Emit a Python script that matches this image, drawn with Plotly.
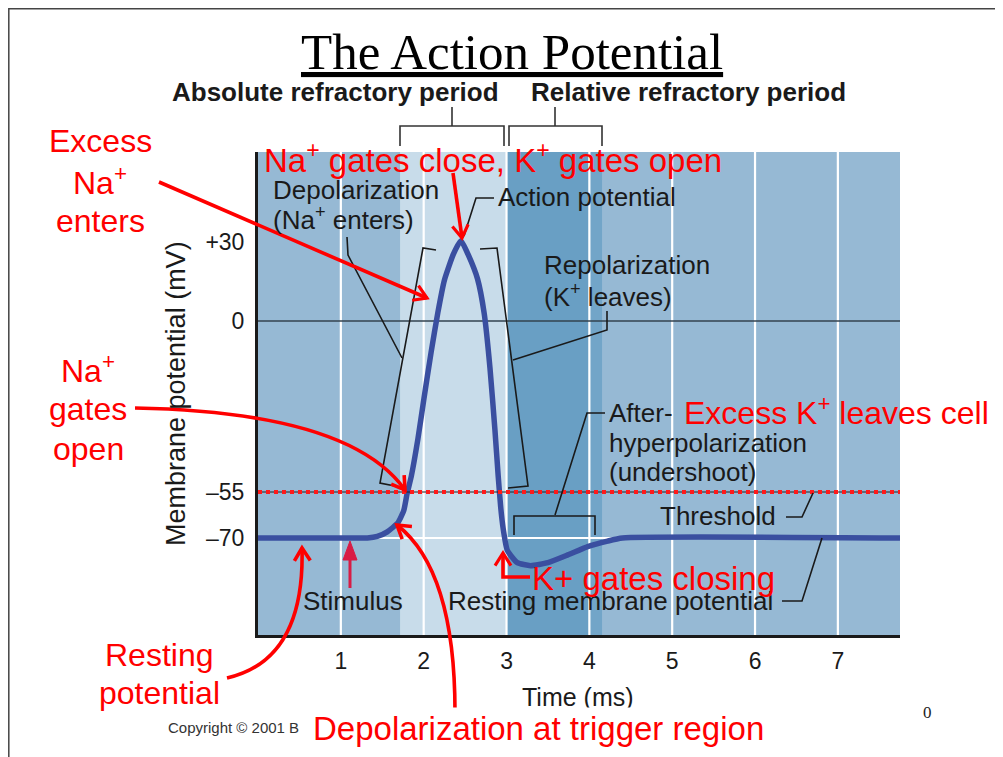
import math
import numpy as np
import plotly.graph_objects as go

# ---------------- data ----------------
TIME_MS = [0, 1.0, 1.32, 1.44, 1.56, 1.69, 1.76, 1.80, 1.85, 1.93, 2.0, 2.09, 2.17, 2.25,
           2.36, 2.45, 2.54, 2.65, 2.73, 2.80, 2.86, 2.90, 2.93, 2.96, 3.01, 3.13, 3.29,
           3.50, 3.74, 3.98, 4.22, 4.40, 7.75]
VM_MV = [-70, -70, -70, -69.5, -68, -65, -61, -55.5, -50, -38, -25.5, -10, 3, 15.5,
         25.5, 30.5, 25, 16, 3, -15, -35, -50, -60, -67, -74, -78, -79,
         -78, -75.5, -72.8, -71, -70, -70]

Y_TICK_MV = [30, 0, -55, -70]
Y_TICK_TEXT = ["+30", "0", "\u201355", "\u201370"]
X_TICKS = [1, 2, 3, 4, 5, 6, 7]
X_TICK_TEXT = ["1", "2", "3", "4", "5", "6", "7"]
THRESHOLD_MV = -55
REST_MV = -70

# shaded phases of the time axis (ms) and their tints
BAND_EDGES = [0, 1.715, 2.995, 4.01, 4.155, 7.75]
BAND_COLORS = ["#96b9d4", "#c8dcea", "#699fc4", "#72a5c8", "#96b9d4"]

# the textbook figure's voltage axis is not linear: knots of its display scale
MV_KNOTS = [-110, -70, -55, 0, 30, 70]
DISPLAY_KNOTS = [-340, -217, -171, 0, 79, 184]


def to_disp(mv):
    return np.interp(mv, MV_KNOTS, DISPLAY_KNOTS)


# ---------------- layout geometry ----------------
PAGE_OFF = 8              # default body margin of the html page
FW, FH = 1003 - PAGE_OFF, 757 - PAGE_OFF
# plot area, in page pixels
PL, PR, PT, PB = 258, 900, 152, 635
X_RANGE = [0, 7.75]
Y_RANGE = [-314, 169]


def px(x):
    return (x - PL) / (PR - PL)


def py(y):
    return (PB - y) / (PB - PT)


fig = go.Figure()

fig.add_trace(go.Scatter(
    x=TIME_MS, y=to_disp(np.array(VM_MV)), mode="lines",
    line=dict(color="#3a4fa0", width=5.5, shape="spline", smoothing=0.5),
    hoverinfo="skip", showlegend=False))

# background bands
for i, c in enumerate(BAND_COLORS):
    fig.add_shape(type="rect", xref="x", yref="paper", x0=BAND_EDGES[i], x1=BAND_EDGES[i + 1],
                  y0=0, y1=1, fillcolor=c, line=dict(width=0), layer="below")
for xv in X_TICKS:
    fig.add_shape(type="line", xref="x", yref="paper", x0=xv, x1=xv, y0=0, y1=1,
                  line=dict(color="white", width=2.2), layer="below")
fig.add_shape(type="line", xref="paper", yref="y", x0=0, x1=1, y0=to_disp(REST_MV), y1=to_disp(REST_MV),
              line=dict(color="white", width=2.2), layer="below")
fig.add_shape(type="line", xref="paper", yref="y", x0=0, x1=1, y0=to_disp(0), y1=to_disp(0),
              line=dict(color="#33434f", width=1.6), layer="below")
# threshold
fig.add_shape(type="line", xref="paper", yref="y", x0=0, x1=1, y0=to_disp(THRESHOLD_MV), y1=to_disp(THRESHOLD_MV),
              line=dict(color="#222222", width=1.2), layer="above")
fig.add_shape(type="line", xref="paper", yref="y", x0=0, x1=1, y0=to_disp(THRESHOLD_MV), y1=to_disp(THRESHOLD_MV),
              line=dict(color="#ff1a1a", width=4, dash="4px,4px"), layer="above")


def seg(pts, color="#1a1a1a", width=1.6):
    d = "M " + " L ".join(f"{px(x):.5f},{py(y):.5f}" for x, y in pts)
    fig.add_shape(type="path", path=d, xref="paper", yref="paper",
                  line=dict(color=color, width=width), layer="above")


def head(tip, frm, color="#ff0000", width=3.2, size=15, ang=32):
    dx, dy = tip[0] - frm[0], tip[1] - frm[1]
    n = math.hypot(dx, dy)
    bx, by = -dx / n, -dy / n
    a = math.radians(ang)
    arms = []
    for s in (1, -1):
        rx = bx * math.cos(s * a) - by * math.sin(s * a)
        ry = bx * math.sin(s * a) + by * math.cos(s * a)
        arms.append((tip[0] + size * rx, tip[1] + size * ry))
    seg([arms[0], tip, arms[1]], color, width)


def qarrow(p0, p1, p2, color="#ff0000", width=3.6):
    d = (f"M {px(p0[0]):.5f},{py(p0[1]):.5f} Q {px(p1[0]):.5f},{py(p1[1]):.5f} "
         f"{px(p2[0]):.5f},{py(p2[1]):.5f}")
    fig.add_shape(type="path", path=d, xref="paper", yref="paper",
                  line=dict(color=color, width=width), layer="above")
    head(p2, p1, color, width)


def txt(s, x, y, size=26, color="#1a1a1a", xanchor="left", family="Arial, 'Liberation Sans', sans-serif",
        bg=None, angle=0):
    fig.add_annotation(x=px(x), y=py(y), xref="paper", yref="paper", text=s, showarrow=False,
                       xanchor=xanchor, yanchor="middle", textangle=angle,
                       font=dict(size=size, color=color, family=family),
                       bgcolor=bg if bg else "rgba(0,0,0,0)", borderpad=2)


# frame of the slide
seg([(8.8, 757), (8.8, 8.8), (1003, 8.8)], "#444444", 1.5)

# refractory brackets
seg([(452, 107), (452, 126)], "#333333", 1.6)
seg([(400, 146), (400, 126), (504, 126), (504, 146)], "#333333", 1.6)
seg([(555, 107), (555, 126)], "#333333", 1.6)
seg([(509, 146), (509, 126), (602, 126), (602, 146)], "#333333", 1.6)

# callout lines
seg([(347, 237), (348, 255), (402, 358)])
seg([(436, 250), (423, 248), (380, 483), (400, 487)])
seg([(480, 249), (497, 248), (528, 486), (508, 488)])
seg([(607, 311), (607, 330), (513, 360)])
seg([(464, 236), (476, 198), (494, 198)])
seg([(555, 515), (587, 413), (605, 413)])
seg([(514, 535), (514, 516), (595, 516), (595, 535)])
seg([(786, 517), (802, 517), (813, 493)])
seg([(782, 601), (802, 601), (822, 538)])

# stimulus arrow
seg([(350, 588), (350, 556)], "#d81b45", 3)
fig.add_shape(type="path", xref="paper", yref="paper",
              path=f"M {px(350)},{py(541)} L {px(343)},{py(560)} L {px(357)},{py(560)} Z",
              fillcolor="#d81b45", line=dict(color="#d81b45", width=1), layer="above")

# red arrows
seg([(159, 182), (427, 298)], "#ff0000", 3.6)
head((427, 298), (159, 182))
seg([(453, 173), (462, 238)], "#ff0000", 3.6)
head((462, 238), (453, 173))
qarrow((135, 408), (350, 412), (405, 490))
qarrow((227, 678), (305, 660), (302, 548))
qarrow((455, 712), (455, 570), (397, 525))
seg([(530, 577), (503, 577), (503, 553)], "#ff0000", 3.6)
head((503, 553), (503, 577))

# ---------------- texts ----------------
txt("<u>The Action Potential</u>", 512, 52, 51, "#000000", "center",
    family="'Liberation Serif', 'Times New Roman', serif")
txt("<b>Absolute refractory period</b>", 335, 92, 26, "#1a1a1a", "center")
txt("<b>Relative refractory period</b>", 688, 92, 26, "#1a1a1a", "center")

txt("Depolarization", 270, 190)
txt("(Na<sup>+</sup> enters)", 270, 218)
txt("Action potential", 495, 197)
txt("Repolarization", 541, 265)
txt("(K<sup>+</sup> leaves)", 541, 295)
txt("After-", 606, 413)
txt("hyperpolarization", 606, 443)
txt("(undershoot)", 606, 472)
txt("Threshold", 779, 516, xanchor="right")
txt("Stimulus", 300, 601)
txt("Resting membrane potential", 776, 601, xanchor="right")
txt("Membrane potential (mV)", 176, 394, 27, angle=-90, xanchor="center")
txt("Time (ms)", 578, 697, 25, xanchor="center")
txt("Copyright \u00a9 2001 B", 165, 727, 15, "#333333")
txt("0", 927, 712, 17, "#222222", "center", family="'Liberation Serif', serif")

RED = "#ff0000"
txt("Na<sup>+</sup> gates close, K<sup>+</sup> gates open", 261, 158, 33, RED)
txt("Excess", 100, 141, 32, RED, "center")
txt("Na<sup>+</sup>", 100, 181, 32, RED, "center")
txt("enters", 100, 221, 32, RED, "center")
txt("Na<sup>+</sup>", 88, 369, 32, RED, "center")
txt("gates", 88, 409, 32, RED, "center")
txt("open", 88, 449, 32, RED, "center")
txt("Excess K<sup>+</sup> leaves cell", 681, 411, 32, RED)
txt("K+ gates closing", 529, 578, 33, RED)
txt("Resting", 159, 655, 32, RED, "center")
txt("potential", 159, 693, 32, RED, "center")
txt("Depolarization at trigger region", 310, 728, 33, RED, bg="white")

fig.update_xaxes(range=X_RANGE, tickvals=X_TICKS, ticktext=X_TICK_TEXT, showgrid=False, zeroline=False,
                 showline=True, linecolor="#1a1a1a", linewidth=3, ticks="", ticklabelstandoff=3,
                 tickfont=dict(size=23, color="#1a1a1a", family="Arial, 'Liberation Sans', sans-serif"))
fig.update_yaxes(range=Y_RANGE, tickvals=list(to_disp(np.array(Y_TICK_MV))), ticktext=Y_TICK_TEXT,
                 showgrid=False, zeroline=False, showline=True, linecolor="#1a1a1a", linewidth=3,
                 ticks="", ticklabelstandoff=6,
                 tickfont=dict(size=23, color="#1a1a1a", family="Arial, 'Liberation Sans', sans-serif"))
fig.update_layout(width=FW, height=FH,
                  margin=dict(l=PL - PAGE_OFF, r=FW - (PR - PAGE_OFF), t=PT - PAGE_OFF, b=FH - (PB - PAGE_OFF)),
                  paper_bgcolor="white", plot_bgcolor="#96b9d4", showlegend=False)

fig.write_html("out.html")
